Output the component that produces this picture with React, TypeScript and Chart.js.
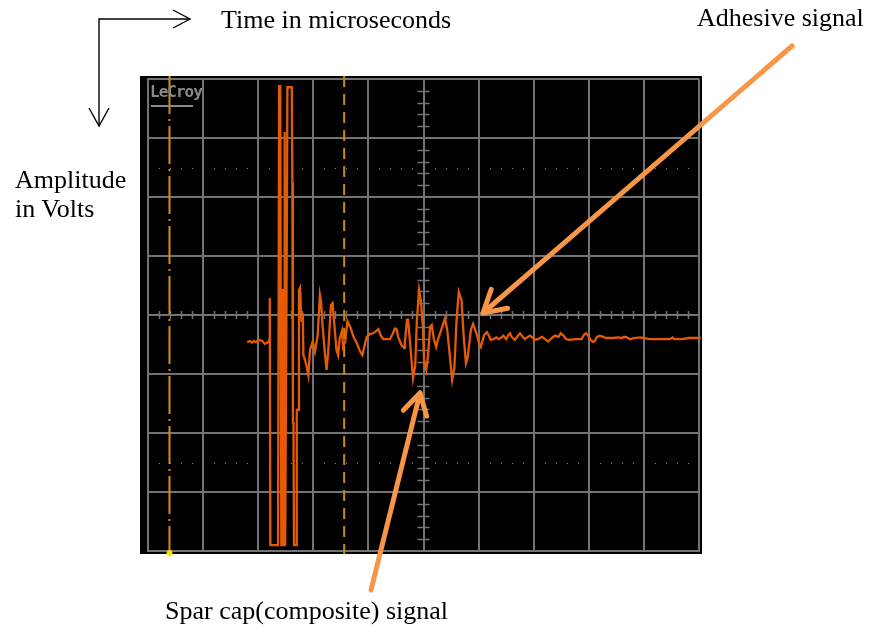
import React, { useEffect, useRef } from "react";
import { Chart, registerables } from "chart.js";

Chart.register(...registerables);

// Time axis in screen divisions (0..10), amplitude in divisions (-4..4)
const timeDiv = [
  1.80, 1.85, 1.89, 1.92, 1.96, 2.01, 2.07, 2.12, 2.18, 2.20,
  2.21, 2.22, 2.36, 2.38, 2.40, 2.42, 2.44, 2.45, 2.46, 2.47,
  2.48, 2.49, 2.50, 2.52, 2.53, 2.61, 2.62, 2.63, 2.64, 2.65,
  2.69, 2.70, 2.73, 2.74,
  2.76, 2.78, 2.79, 2.81, 2.82, 2.85, 2.88, 2.91, 2.94, 2.99,
  3.03, 3.08, 3.12, 3.14, 3.17, 3.21, 3.24, 3.27, 3.32, 3.35,
  3.38, 3.42, 3.45, 3.48, 3.52, 3.54, 3.58, 3.62, 3.67, 3.73,
  3.79, 3.85, 3.89, 3.94, 3.97, 4.03, 4.09, 4.18, 4.23, 4.27,
  4.39, 4.44, 4.48, 4.51, 4.54, 4.60, 4.65, 4.66, 4.70, 4.72,
  4.77, 4.81, 4.85, 4.88, 4.92, 4.95, 4.99, 5.01, 5.05, 5.08,
  5.12, 5.15, 5.19, 5.23, 5.26, 5.30, 5.39, 5.43, 5.48, 5.52,
  5.56, 5.60, 5.64, 5.69, 5.73, 5.77, 5.80, 5.86, 5.90, 5.96,
  6.01, 6.04,
  6.10, 6.15, 6.18, 6.22, 6.27, 6.32, 6.36, 6.40, 6.45, 6.50,
  6.54, 6.57, 6.60, 6.66, 6.70, 6.75, 6.80, 6.84, 6.88, 6.93,
  6.98, 7.02, 7.08, 7.15, 7.21, 7.26, 7.33, 7.39, 7.45, 7.49,
  7.54, 7.59, 7.65, 7.75, 7.87, 7.91, 7.95, 7.99, 8.03, 8.08,
  8.11, 8.15, 8.20, 8.26, 8.32, 8.44, 8.54, 8.60, 8.64, 8.69,
  8.75, 8.82, 8.94, 9.00, 9.11, 9.29, 9.47, 9.52, 9.55, 9.69,
  9.81, 9.99, 10.03, 10.04,
];

const amplitudeDiv = [
  -0.46, -0.44, -0.47, -0.44, -0.46, -0.42, -0.44, -0.49, -0.46, -0.42,
  0.29, -3.90, -3.90, 3.88, 3.88, -3.90, -3.90, 0.44, -3.90, -3.90,
  3.10, -3.90, -3.90, 1.44, 3.86, 3.86, 2.25, -1.83, -1.83, -3.90,
  -3.90, -1.61, -1.61, 0.42,
  0.46, -0.03, -0.12, 0.03, -0.68, -0.76, -0.88, -1.02, -0.59, -0.45,
  -0.62, -0.34, 0.34, 0.23, -0.20, -0.64, -0.93, -0.63, 0.17, 0.20,
  -0.14, -0.59, -0.68, -0.39, -0.27, -0.54, -0.45, -0.11, -0.20, -0.37,
  -0.48, -0.62, -0.68, -0.48, -0.37, -0.32, -0.31, -0.24, -0.36, -0.41,
  -0.41, -0.32, -0.23, -0.24, -0.37, -0.51, -0.56, -0.48, -0.08, -0.08,
  -0.62, -1.07, -0.85, -0.08, 0.42, 0.25, -0.20, -0.76, -0.93, -0.71,
  -0.20, -0.17, -0.42, -0.54, -0.42, -0.31, -0.06, -0.25, -0.71, -1.10,
  -0.90, -0.08, 0.39, 0.25, -0.37, -0.82, -0.73, -0.25, -0.15, -0.31,
  -0.48, -0.54,
  -0.34, -0.29, -0.34, -0.42, -0.41, -0.38, -0.41, -0.39, -0.35, -0.41,
  -0.34, -0.31, -0.37, -0.42, -0.37, -0.31, -0.37, -0.41, -0.38, -0.35,
  -0.38, -0.42, -0.41, -0.37, -0.41, -0.45, -0.39, -0.35, -0.37, -0.31,
  -0.35, -0.41, -0.42, -0.41, -0.41, -0.34, -0.31, -0.35, -0.42, -0.46,
  -0.44, -0.37, -0.35, -0.37, -0.39, -0.39, -0.38, -0.39, -0.37, -0.38,
  -0.41, -0.39, -0.38, -0.39, -0.41, -0.41, -0.41, -0.38, -0.41, -0.41,
  -0.39, -0.39, -0.39, -0.12,
];

const timeRange = [0, 10];
const amplitudeRange = [-4, 4];
const dottedLevels = [2.5, -2.5];
const dashDotCursorTime = 0.39;
const dashedCursorTime = 3.56;

const GRID = "#737373";
const TRACE = "#e65a05";
const ARROW = "#f79646";

function arrowHead(tipX: number, tipY: number, tailX: number, tailY: number, len: number) {
  const dx = tailX - tipX;
  const dy = tailY - tipY;
  const n = Math.hypot(dx, dy);
  const ux = dx / n;
  const uy = dy / n;
  const a = Math.PI / 6;
  const r1x = ux * Math.cos(a) - uy * Math.sin(a);
  const r1y = ux * Math.sin(a) + uy * Math.cos(a);
  const r2x = ux * Math.cos(-a) - uy * Math.sin(-a);
  const r2y = ux * Math.sin(-a) + uy * Math.cos(-a);
  return `${tipX + r1x * len},${tipY + r1y * len} ${tipX},${tipY} ${tipX + r2x * len},${tipY + r2y * len}`;
}

const textStyle: React.CSSProperties = {
  position: "absolute",
  margin: 0,
  whiteSpace: "nowrap",
  fontFamily: '"Liberation Serif", "Times New Roman", serif',
  fontSize: 26,
  lineHeight: "26px",
  color: "#000",
};

export default function App() {
  const ref = useRef<HTMLCanvasElement>(null);

  useEffect(() => {
    const canvas = ref.current;
    if (!canvas) return;
    const points = timeDiv.map((t, i) => ({ x: t, y: amplitudeDiv[i] }));

    const scopePlugin = {
      id: "scope",
      beforeDraw(chart: any) {
        const { ctx, chartArea: a } = chart;
        ctx.save();
        ctx.fillStyle = "#000";
        ctx.fillRect(a.left - 8, a.top - 3, a.right - a.left + 11, a.bottom - a.top + 6);
        ctx.restore();
      },
      beforeDatasetsDraw(chart: any) {
        const { ctx, chartArea: a, scales } = chart;
        const xs = scales.x;
        const ys = scales.y;
        ctx.save();
        // dotted level lines
        ctx.fillStyle = "#8a8a8a";
        for (const lvl of dottedLevels) {
          const py = Math.round(ys.getPixelForValue(lvl));
          for (let k = 1; k < 50; k++) {
            if (k % 5 === 0) continue;
            const px = Math.round(xs.getPixelForValue(k * 0.2));
            ctx.fillRect(px, py, 1, 1);
          }
        }
        // center graticule minor ticks
        const cx = xs.getPixelForValue(5);
        const cy = ys.getPixelForValue(0);
        ctx.strokeStyle = GRID;
        ctx.lineWidth = 1.5;
        ctx.beginPath();
        for (let k = 1; k < 40; k++) {
          if (k % 5 === 0) continue;
          const py = Math.round(ys.getPixelForValue(-4 + k * 0.2)) + 0.5;
          ctx.moveTo(cx - 6, py);
          ctx.lineTo(cx + 6, py);
        }
        for (let k = 1; k < 50; k++) {
          if (k % 5 === 0) continue;
          const px = Math.round(xs.getPixelForValue(k * 0.2)) + 0.5;
          ctx.moveTo(px, cy - 4);
          ctx.lineTo(px, cy + 4);
        }
        ctx.stroke();
        // cursors
        ctx.lineWidth = 2;
        const c1 = xs.getPixelForValue(dashDotCursorTime);
        ctx.strokeStyle = "#d4900a";
        ctx.setLineDash([38, 5, 2, 5]);
        ctx.beginPath();
        ctx.moveTo(c1, a.top - 3);
        ctx.lineTo(c1, a.bottom + 3);
        ctx.stroke();
        const c2 = xs.getPixelForValue(dashedCursorTime);
        ctx.strokeStyle = "#c98a0c";
        ctx.setLineDash([11, 7]);
        ctx.beginPath();
        ctx.moveTo(c2, a.top - 3);
        ctx.lineTo(c2, a.bottom + 3);
        ctx.stroke();
        ctx.restore();
      },
      afterDatasetsDraw(chart: any) {
        const { ctx, chartArea: a, scales } = chart;
        const c1 = scales.x.getPixelForValue(dashDotCursorTime);
        ctx.save();
        ctx.fillStyle = "#f2e200";
        ctx.beginPath();
        ctx.arc(c1, a.bottom + 2, 3, 0, Math.PI * 2);
        ctx.fill();
        ctx.restore();
      },
    };

    const chart = new Chart(canvas, {
      type: "scatter",
      data: {
        datasets: [
          {
            data: points,
            showLine: true,
            borderColor: TRACE,
            borderWidth: 2.3,
            pointRadius: 0,
            tension: 0,
            clip: false as any,
          },
        ],
      },
      options: {
        responsive: false,
        maintainAspectRatio: false,
        animation: false,
        devicePixelRatio: 1,
        layout: { padding: { left: 148, top: 79, right: 173, bottom: 81 } },
        plugins: { legend: { display: false }, tooltip: { enabled: false } },
        scales: {
          x: {
            type: "linear",
            min: timeRange[0],
            max: timeRange[1],
            ticks: { display: false, stepSize: 1 },
            grid: { color: GRID, lineWidth: 2, drawTicks: false },
            border: { display: true, color: GRID, width: 2 },
          },
          y: {
            type: "linear",
            min: amplitudeRange[0],
            max: amplitudeRange[1],
            ticks: { display: false, stepSize: 1 },
            grid: { color: GRID, lineWidth: 2, drawTicks: false },
            border: { display: true, color: GRID, width: 2 },
          },
        },
      },
      plugins: [scopePlugin],
    });
    return () => chart.destroy();
  }, []);

  return (
    <div style={{ position: "absolute", left: 0, top: 0, width: 872, height: 632, background: "#fff", overflow: "hidden" }}>
      <canvas ref={ref} width={872} height={632} style={{ position: "absolute", left: 0, top: 0, display: "block" }} />
      <div
        style={{
          position: "absolute",
          left: 150,
          top: 83,
          fontFamily: '"DejaVu Sans Mono", monospace',
          fontWeight: "bold",
          fontSize: 16,
          letterSpacing: "-1px",
          lineHeight: "18px",
          color: "#8a8a8a",
        }}
      >
        LeCroy
      </div>
      <div style={{ position: "absolute", left: 151, top: 105, width: 42, height: 2, background: "#8a8a8a" }} />
      <svg width={872} height={632} style={{ position: "absolute", left: 0, top: 0, pointerEvents: "none" }}>
        <polyline points="99,126 99,19 190,19" fill="none" stroke="#000" strokeWidth={1.4} />
        <polyline points="173,10 190,19 173,28" fill="none" stroke="#000" strokeWidth={1.4} />
        <polyline points="89,108 99,126 109,108" fill="none" stroke="#000" strokeWidth={1.4} />
        <line x1={792} y1={46} x2={483} y2={313} stroke={ARROW} strokeWidth={5} strokeLinecap="round" />
        <polyline points={arrowHead(483, 313, 792, 46, 25)} fill="none" stroke={ARROW} strokeWidth={5} strokeLinecap="round" strokeLinejoin="round" />
        <line x1={371} y1={590} x2={420} y2={393} stroke={ARROW} strokeWidth={5} strokeLinecap="round" />
        <polyline points={arrowHead(420, 393, 371, 590, 24)} fill="none" stroke={ARROW} strokeWidth={5} strokeLinecap="round" strokeLinejoin="round" />
      </svg>
      <div style={{ ...textStyle, left: 221, top: 7 }}>Time in microseconds</div>
      <div style={{ ...textStyle, left: 15, top: 167 }}>Amplitude</div>
      <div style={{ ...textStyle, left: 15, top: 196 }}>in Volts</div>
      <div style={{ ...textStyle, left: 697, top: 5 }}>Adhesive signal</div>
      <div style={{ ...textStyle, left: 165, top: 598 }}>Spar cap(composite) signal</div>
    </div>
  );
}
